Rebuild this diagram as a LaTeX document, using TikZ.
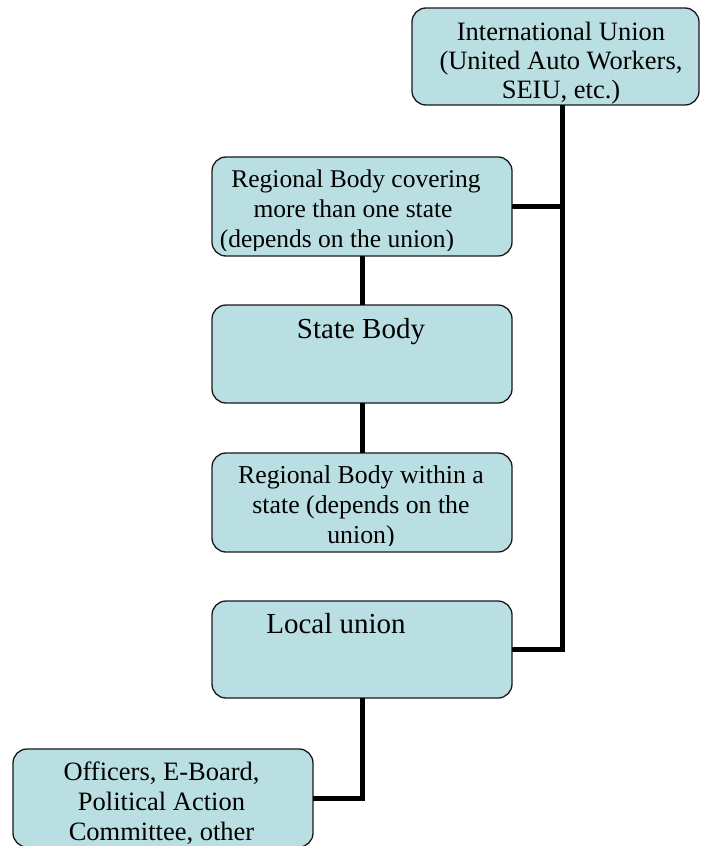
\documentclass[tikz,border=0pt]{standalone}
\usepackage{fontspec}
\setmainfont{Liberation Serif}
\definecolor{boxfill}{RGB}{185,223,227}
\begin{document}
\begin{tikzpicture}[x=1pt,y=-1pt,
  box/.style={draw=black!90,line width=1.3pt,fill=boxfill,rounded corners=14pt,
    minimum width=300pt,minimum height=98pt,inner sep=0pt,outer sep=0pt},
  conn/.style={line width=5pt,black},
  lbl/.style={anchor=base,inner sep=0pt}]
\useasboundingbox (0,0) rectangle (701,846);
\fill[white] (0,0) rectangle (701,846);
\node[box,minimum width=287pt,minimum height=97pt] (b1) at (555.5,56.5) {};
\node[box,minimum height=99pt] (b2) at (362,206.5) {};
\node[box] (b3) at (362,354) {};
\node[box,minimum height=99pt] (b4) at (362,502.5) {};
\node[box,minimum height=97pt] (b5) at (362,649.5) {};
\node[box] (b6) at (163,798) {};
% connectors
\coordinate (spine) at ([xshift=6.5pt]b1.south);
\draw[conn] (spine) |- (b2.east);
\draw[conn] (spine) |- (b5.east);
\draw[conn] (b2.south) -- (b3.north);
\draw[conn] (b3.south) -- (b4.north);
\draw[conn] (b5.south) |- (b6.east);
% texts
\node[lbl,font=\fontsize{26.5}{29}\selectfont] (t1a) at (561,40) {International Union};
\node[lbl,font=\fontsize{26.5}{29}\selectfont] (t1b) at (561,69) {(United Auto Workers,};
\node[lbl,font=\fontsize{26.5}{29}\selectfont] (t1c) at (561,98) {SEIU, etc.)};
\begin{scope}
\clip (b2.north west) rectangle ([yshift=6pt]b2.south east);
\node[lbl,font=\fontsize{25.5}{29}\selectfont] (t2a) at (356,187) {Regional Body covering};
\node[lbl,font=\fontsize{25.5}{29}\selectfont] (t2b) at (353,217) {more than one state};
\node[lbl,font=\fontsize{25.5}{29}\selectfont] (t2c) at (337,247) {(depends on the union)};
\end{scope}
\node[lbl,font=\fontsize{29}{33}\selectfont] (t3) at (361,338) {State Body};
\begin{scope}
\clip (b4.north west) rectangle ([yshift=7pt]b4.south east);
\node[lbl,font=\fontsize{25.8}{29}\selectfont] (t4a) at (361,483) {Regional Body within a};
\node[lbl,font=\fontsize{25.8}{29}\selectfont] (t4b) at (361,513) {state (depends on the};
\node[lbl,font=\fontsize{25.8}{29}\selectfont] (t4c) at (361,543) {union)};
\end{scope}
\node[lbl,font=\fontsize{29}{33}\selectfont] (t5) at (336,633) {Local union};
\node[lbl,font=\fontsize{26.5}{29}\selectfont] (t6a) at (161.5,780) {Officers, E-Board,};
\node[lbl,font=\fontsize{26.5}{29}\selectfont] (t6b) at (161.5,810) {Political Action};
\node[lbl,font=\fontsize{26.5}{29}\selectfont] (t6c) at (161.5,840) {Committee, other};
\end{tikzpicture}
\end{document}
